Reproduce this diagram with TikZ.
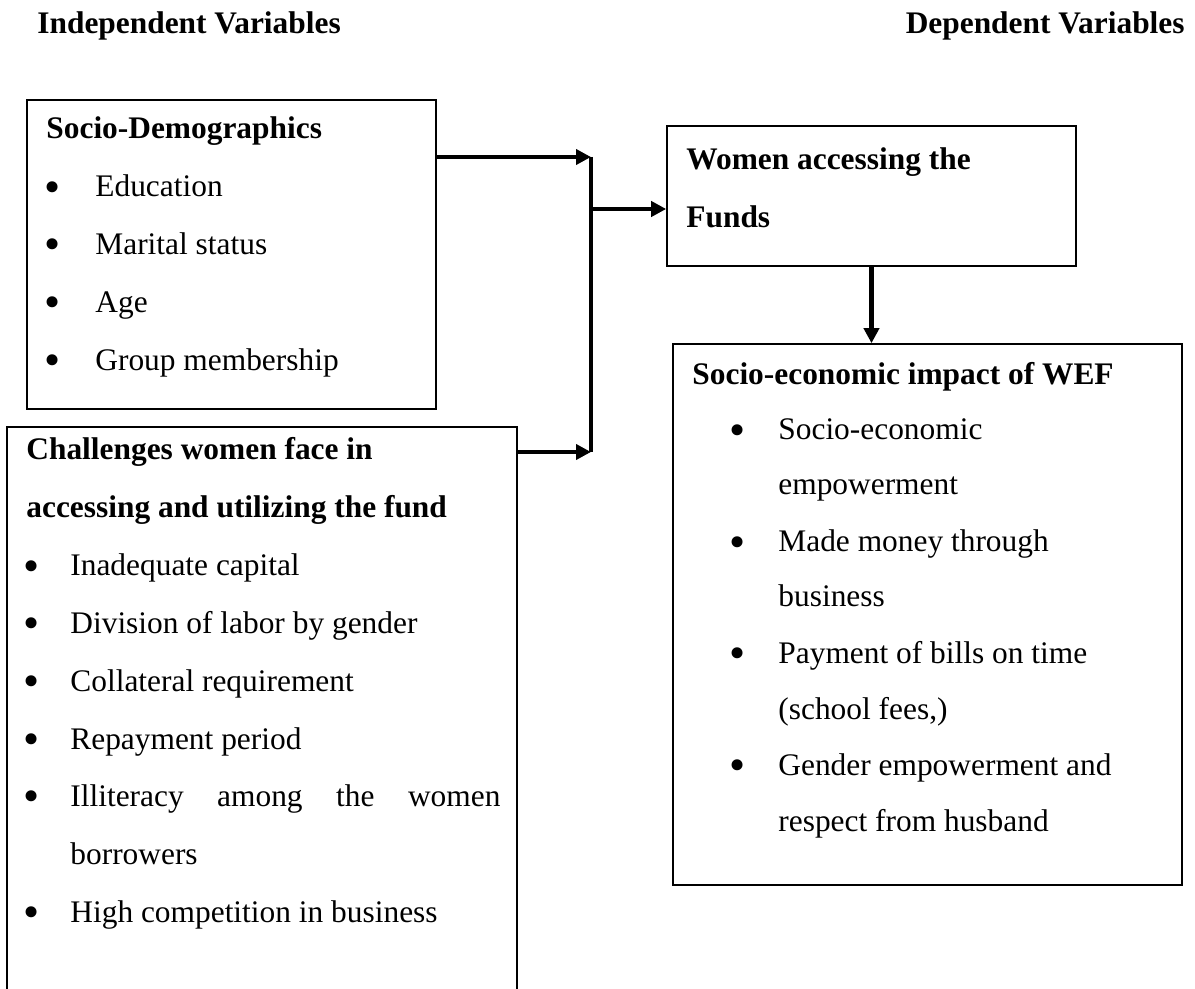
\documentclass[tikz,border=0pt]{standalone}
\usepackage{fontspec}
\setmainfont{Liberation Serif}
\usetikzlibrary{arrows.meta}

\tikzset{
  box/.style={draw, line width=0.8pt, inner sep=0pt},
  txt/.style={inner sep=0pt, anchor=base west, font=\fontsize{15.7pt}{19pt}\selectfont},
  hd/.style={txt, font=\fontsize{15.7pt}{19pt}\selectfont\bfseries},
  bul/.style={txt, anchor=base, font=\fontsize{23pt}{23pt}\selectfont},
  arr/.style={line width=2.2pt, -{Triangle[length=7.5pt,width=7.5pt]}},
  bar/.style={line width=2.2pt},
}
\newcommand{\bulletmark}{\raisebox{-2.6pt}{\textbullet}}

\begin{document}
\begin{tikzpicture}[x=0.5pt, y=-0.5pt]
  \useasboundingbox (0,0) rectangle (1195,989);
  \clip (0,0) rectangle (1195,989);

  \node[hd] (indep) at (37,34) {Independent Variables};
  \node[hd, anchor=base east] (dep) at (1185,34) {Dependent Variables};

  % boxes
  \node[box, minimum width=204.5pt, minimum height=154.5pt] (demo) at (231.5,254.5) {};
  \node[box, minimum width=255pt, minimum height=291.5pt] (chal) at (262,718.5) {};
  \node[box, minimum width=204.5pt, minimum height=70pt] (fund) at (871.5,196) {};
  \node[box, minimum width=254.5pt, minimum height=270.5pt] (impact) at (927.5,614.5) {};

  % socio-demographics
  \node[hd] (demo-h) at (46,139) {Socio-Demographics};
  \foreach \t [count=\i] in {Education, Marital status, Age, Group membership}{
    \node[bul] (demo-b\i) at (53,{197+57.7*(\i-1)}) {\bulletmark};
    \node[txt] (demo-\i) at (95,{197+57.7*(\i-1)}) {\t};
  }

  % challenges
  \node[hd] (chal-h1) at (26,460) {Challenges women face in};
  \node[hd] (chal-h2) at (26,518) {accessing and utilizing the fund};
  \foreach \y/\t [count=\i] in {576/Inadequate capital, 633/Division of labor by gender,
      691/Collateral requirement, 749/Repayment period, 922/High competition in business}{
    \node[bul] (chal-b\i) at (32,\y) {\bulletmark};
    \node[txt] (chal-\i) at (70,\y) {\t};
  }
  \node[bul] (chal-b6) at (32,806) {\bulletmark};
  \node[txt] (chal-6) at (70,806) {\makebox[215pt][s]{Illiteracy among the women}};
  \node[txt] (chal-7) at (70,864) {borrowers};

  % funds
  \node[hd] (fund-1) at (686,170) {Women accessing the};
  \node[hd] (fund-2) at (686,228) {Funds};

  % impact
  \node[hd] (impact-h) at (692,385) {Socio-economic impact of WEF};
  \foreach \y [count=\i] in {440,552,663,775}
    \node[bul] (impact-b\i) at (738,\y) {\bulletmark};
  \foreach \y/\t [count=\i] in {440/Socio-economic, 495/empowerment, 552/Made money through,
      607/business, 663/Payment of bills on time, 719/{(school fees,)},
      775/Gender empowerment and, 831/respect from husband}
    \node[txt] (impact-\i) at (778,\y) {\t};

  % arrows
  \coordinate (jtop) at (591,157);
  \coordinate (jmid) at (593,209);
  \coordinate (jbot) at (591,452);
  \draw[bar] (jtop) -- (jbot);
  \draw[arr] (demo.east |- jtop) -- (jtop);
  \draw[arr] (chal.east |- jbot) -- (jbot);
  \draw[arr] (jmid) -- (fund.west |- jmid);
  \draw[arr] (fund.south) -- (fund.south |- impact.north);
\end{tikzpicture}
\end{document}
